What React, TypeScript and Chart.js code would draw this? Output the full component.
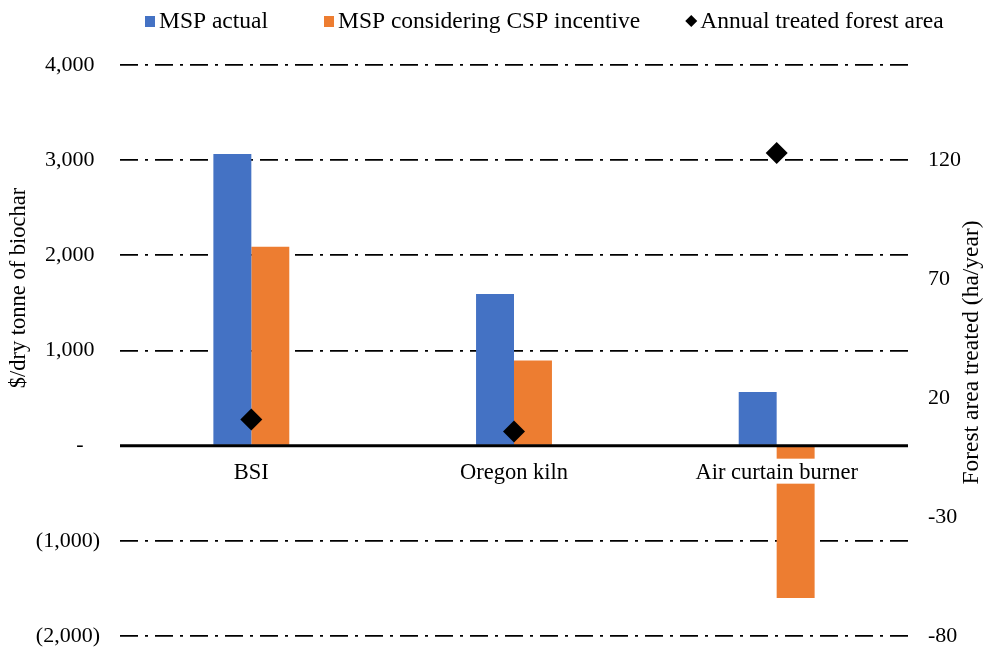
import React, { useEffect, useRef } from "react";
import { Chart, registerables } from "chart.js";

Chart.register(...registerables);

// ---- data ----
const categories = ["BSI", "Oregon kiln", "Air curtain burner"];
const mspActual = [3065, 1595, 565];
const mspCsp = [2090, 895, -1600];
const forestArea = [11, 6, 123];
const seriesNames = ["MSP actual", "MSP considering CSP incentive", "Annual treated forest area"];
const leftMin = -2000;
const leftMax = 4000;
const leftStep = 1000;
const rightMin = -80;
const rightMax = 160;
const rightTickValues = [-80, -30, 20, 70, 120];
const leftTitle = "$/dry tonne of biochar";
const rightTitle = "Forest area treated (ha/year)";

// ---- styles ----
const FONT = '"Liberation Serif", "Times New Roman", serif';
const BLUE = "#4472C4";
const ORANGE = "#ED7D31";

function withCommas(n: number) {
  return String(n).replace(/\B(?=(\d{3})+(?!\d))/g, ",");
}
function fmtLeft(v: number) {
  if (v === 0) return "-   ";
  const s = withCommas(Math.abs(v));
  return v < 0 ? `(${s})` : `${s} `;
}

const legendPlugin = {
  id: "customLegend",
  afterDraw(chart: any) {
    const ctx = chart.ctx;
    ctx.save();
    ctx.font = `23.5px ${FONT}`;
    ctx.textBaseline = "middle";
    ctx.textAlign = "left";
    const gaps = [56, 46];
    let x = 145;
    const y = 21;
    chart.data.datasets.forEach((ds: any, i: number) => {
      ctx.fillStyle = ds.backgroundColor;
      if (ds.type === "line") {
        ctx.beginPath();
        ctx.moveTo(x + 5, y - 6);
        ctx.lineTo(x + 11, y);
        ctx.lineTo(x + 5, y + 6);
        ctx.lineTo(x - 1, y);
        ctx.closePath();
        ctx.fill();
      } else {
        ctx.fillRect(x, y - 5, 10, 11);
      }
      ctx.fillStyle = "#000";
      ctx.fillText(ds.label, x + 14, y + 1);
      x += 14 + ctx.measureText(ds.label).width + (gaps[i] ?? 50);
    });
    ctx.restore();
  },
};

const axisTitlePlugin = {
  id: "axisTitles",
  afterDraw(chart: any) {
    const ctx = chart.ctx;
    const { top, bottom } = chart.chartArea;
    ctx.save();
    ctx.font = `22.5px ${FONT}`;
    ctx.fillStyle = "#000";
    ctx.textAlign = "center";
    ctx.textBaseline = "middle";
    ctx.translate(19, 288);
    ctx.rotate(-Math.PI / 2);
    ctx.fillText(leftTitle, 0, 0);
    ctx.restore();
    ctx.save();
    ctx.font = `23.5px ${FONT}`;
    ctx.fillStyle = "#000";
    ctx.textAlign = "center";
    ctx.textBaseline = "middle";
    ctx.translate(972, (top + bottom) / 2 + 2);
    ctx.rotate(-Math.PI / 2);
    ctx.fillText(rightTitle, 0, 0);
    ctx.restore();
  },
};

const zeroLinePlugin = {
  id: "zeroLine",
  afterDatasetsDraw(chart: any) {
    const ctx = chart.ctx;
    const { left, right } = chart.chartArea;
    const yS = chart.scales.y;
    const xS = chart.scales.x;
    const y0 = yS.getPixelForValue(0);
    ctx.save();
    ctx.strokeStyle = "#000";
    ctx.lineWidth = 3;
    ctx.beginPath();
    ctx.moveTo(left, y0);
    ctx.lineTo(right, y0);
    ctx.stroke();
    ctx.font = `22.5px ${FONT}`;
    ctx.textAlign = "center";
    ctx.textBaseline = "middle";
    categories.forEach((c, i) => {
      const x = xS.getPixelForValue(i);
      const w = ctx.measureText(c).width;
      ctx.fillStyle = "#fff";
      ctx.fillRect(x - w / 2 - 3, y0 + 13, w + 6, 25);
      ctx.fillStyle = "#000";
      ctx.fillText(c, x, y0 + 27);
    });
    ctx.restore();
  },
};

export default function App() {
  const ref = useRef<HTMLCanvasElement | null>(null);
  useEffect(() => {
    if (!ref.current) return;
    const chart = new Chart(ref.current, {
      type: "bar",
      data: {
        labels: categories,
        datasets: [
          {
            type: "bar",
            label: seriesNames[0],
            data: mspActual,
            backgroundColor: BLUE,
            yAxisID: "y",
            order: 1,
            categoryPercentage: 0.289,
            barPercentage: 1,
          },
          {
            type: "bar",
            label: seriesNames[1],
            data: mspCsp,
            backgroundColor: ORANGE,
            yAxisID: "y",
            order: 1,
            categoryPercentage: 0.289,
            barPercentage: 1,
          },
          {
            type: "line",
            label: seriesNames[2],
            data: forestArea,
            backgroundColor: "#000",
            borderColor: "#000",
            showLine: false,
            pointStyle: "rectRot",
            pointRadius: 11,
            pointHoverRadius: 11,
            pointBorderWidth: 0,
            yAxisID: "y1",
            order: 0,
          },
        ] as any,
      },
      options: {
        animation: false,
        responsive: false,
        maintainAspectRatio: false,
        layout: { padding: { top: 65, bottom: 11, left: 0, right: 0 } },
        plugins: {
          legend: { display: false },
          tooltip: { enabled: false },
          title: { display: false },
        },
        scales: {
          x: {
            display: false,
            grid: { display: false },
          },
          y: {
            position: "left",
            min: leftMin,
            max: leftMax,
            ticks: {
              stepSize: leftStep,
              padding: 0,
              color: "#000",
              font: { family: FONT, size: 22, lineHeight: 1 },
              callback: (v: any) => fmtLeft(Number(v)),
            },
            grid: {
              color: "#000",
              lineWidth: 1.8,
              drawTicks: true,
              tickLength: 20,
              tickColor: "rgba(0,0,0,0)",
            },
            border: { display: false, dash: [18, 7, 3, 7] },
            afterFit: (s: any) => {
              s.width = 120;
            },
          },
          y1: {
            position: "right",
            min: rightMin,
            max: rightMax,
            afterBuildTicks: (s: any) => {
              s.ticks = rightTickValues.map((v) => ({ value: v }));
            },
            ticks: {
              padding: 0,
              color: "#000",
              font: { family: FONT, size: 22, lineHeight: 1 },
            },
            grid: {
              display: true,
              drawOnChartArea: false,
              drawTicks: true,
              tickLength: 20,
              tickColor: "rgba(0,0,0,0)",
            },
            border: { display: false },
            afterFit: (s: any) => {
              s.width = 78;
            },
          },
        } as any,
      },
      plugins: [zeroLinePlugin, legendPlugin, axisTitlePlugin],
    });
    return () => chart.destroy();
  }, []);
  return (
    <div style={{ position: "absolute", left: 0, top: 0, width: 986, height: 647, background: "#fff" }}>
      <canvas ref={ref} width={986} height={647} />
    </div>
  );
}
